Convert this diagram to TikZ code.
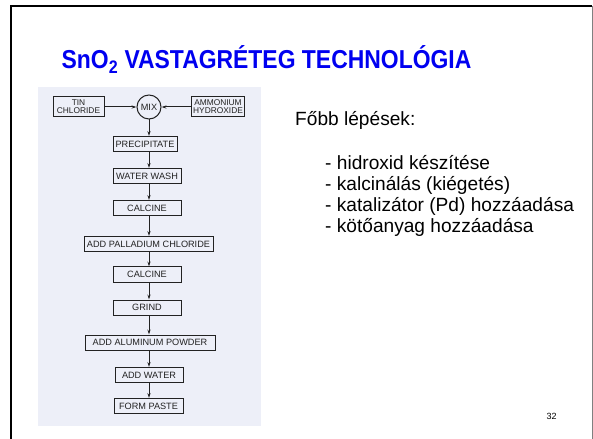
\documentclass[tikz,border=0pt]{standalone}
\usepackage{fontspec}
\setmainfont{Liberation Sans}
\usetikzlibrary{arrows.meta}
\definecolor{panelbg}{HTML}{EDEFF8}
\definecolor{titleblue}{HTML}{0000F0}
\definecolor{ink}{HTML}{222222}
\begin{document}
\begin{tikzpicture}[x=1bp,y=-1bp,
  stepbox/.style={draw=ink,line width=1bp,minimum height=15bp,inner sep=0pt,
    font=\fontsize{9.2}{9.2}\selectfont,text=ink},
  sidebox/.style={draw=ink,line width=1bp,minimum width=51bp,minimum height=20bp,inner sep=0pt,
    align=center,font=\fontsize{8.4}{7.8}\selectfont,text=ink},
  flow/.style={draw=ink,line width=1bp,-{Stealth[length=5bp,width=3.2bp]}},
  bodytext/.style={anchor=base west,inner sep=0pt,font=\fontsize{19.2}{21}\selectfont}
]
\useasboundingbox (0,0) rectangle (593,439);
\fill[white] (0,0) rectangle (593,439);
% slide frame
\draw[black,line width=2bp] (10.5,439) -- (10.5,6.5) -- (592,6.5);
\draw[gray,line width=1bp] (592.3,6.5) -- (592.3,439);
% title
\node[anchor=base,inner sep=0pt,text=titleblue,font=\bfseries\fontsize{26}{26}\selectfont] (title) at (266.5,69)
  {\scalebox{0.885}[1]{SnO\textsubscript{2} VASTAGRÉTEG TECHNOLÓGIA}};
% scanned panel
\fill[panelbg] (38,87) rectangle (261,426);
% flowchart nodes
\node[sidebox] (tin) at (78.5,107) {TIN\\CHLORIDE};
\node[draw=ink,line width=1bp,circle,minimum size=24bp,inner sep=0pt,font=\fontsize{9.2}{9.2}\selectfont,text=ink] (mix) at (149,107) {MIX};
\node[sidebox,minimum width=53bp] (amm) at (218,107) {AMMONIUM\\HYDROXIDE};
\node[stepbox,minimum width=64bp] (prec) at (145,144) {PRECIPITATE};
\node[stepbox,minimum width=68bp] (wash) at (147,176) {WATER WASH};
\node[stepbox,minimum width=68bp] (calc1) at (147,208) {CALCINE};
\node[stepbox,minimum width=129bp] (pall) at (148.5,244) {ADD PALLADIUM CHLORIDE};
\node[stepbox,minimum width=68bp] (calc2) at (147,274.5) {CALCINE};
\node[stepbox,minimum width=68bp] (grind) at (147,307.5) {GRIND};
\node[stepbox,minimum width=130bp] (alum) at (150,342.5) {ADD ALUMINUM POWDER};
\node[stepbox,minimum width=68bp] (water) at (149,375) {ADD WATER};
\node[stepbox,minimum width=69bp] (paste) at (148.5,406) {FORM PASTE};
% connectors
\draw[flow] (tin) -- (mix);
\draw[flow] (amm) -- (mix);
\draw[flow] (mix) -- (mix |- prec.north);
\draw[flow] (mix |- prec.south) -- (mix |- wash.north);
\draw[flow] (mix |- wash.south) -- (mix |- calc1.north);
\draw[flow] (mix |- calc1.south) -- (mix |- pall.north);
\draw[flow] (mix |- pall.south) -- (mix |- calc2.north);
\draw[flow] (mix |- calc2.south) -- (mix |- grind.north);
\draw[flow] (mix |- grind.south) -- (mix |- alum.north);
\draw[flow] (mix |- alum.south) -- (mix |- water.north);
\draw[flow] (mix |- water.south) -- (mix |- paste.north);
% right-hand text
\node[bodytext] (head) at (295,126) {Főbb lépések:};
\node[bodytext] (l1) at (325,170) {- hidroxid készítése};
\node[bodytext] (l2) at (325,191) {- kalcinálás (kiégetés)};
\node[bodytext] (l3) at (325,212) {- katalizátor (Pd) hozzáadása};
\node[bodytext] (l4) at (325,233) {- kötőanyag hozzáadása};
% page number
\node[anchor=center,inner sep=0pt,font=\fontsize{9}{9}\selectfont] (pagenum) at (551.5,416) {32};
\end{tikzpicture}
\end{document}
